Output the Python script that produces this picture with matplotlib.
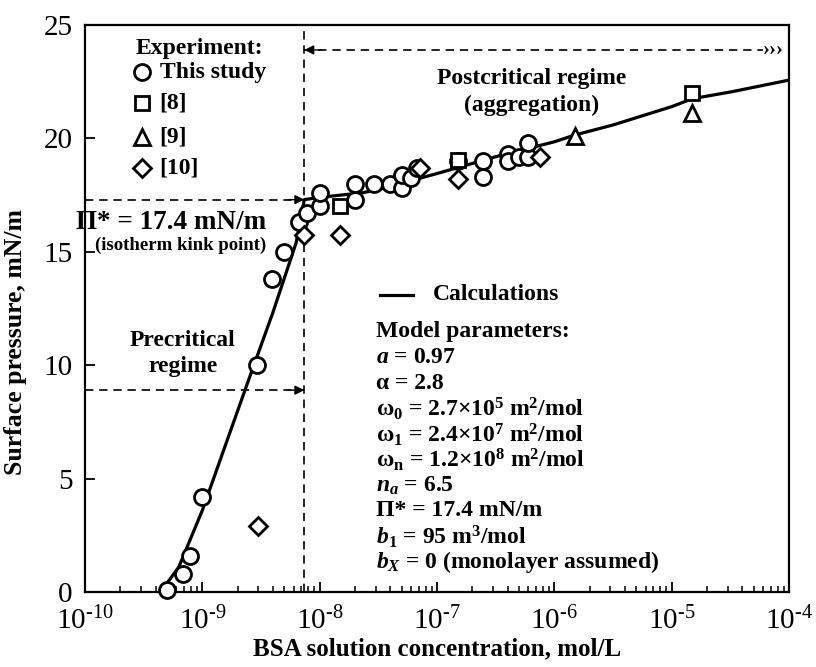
import numpy as np
import matplotlib
matplotlib.use("Agg")
import matplotlib.pyplot as plt

plt.rcParams['font.family'] = ['Liberation Serif', 'DejaVu Serif']
plt.rcParams['mathtext.fontset'] = 'custom'
plt.rcParams['mathtext.rm'] = 'Liberation Serif'
plt.rcParams['mathtext.it'] = 'Liberation Serif:italic:bold'
plt.rcParams['mathtext.bf'] = 'Liberation Serif:bold'

# ---- data ----
study_x = [5.0e-10, 6.8e-10, 7.9e-10, 1.0e-9, 2.95e-9, 3.9e-9, 5.0e-9, 6.7e-9, 7.8e-9,
           1.0e-8, 1.0e-8, 2.0e-8, 2.0e-8, 2.9e-8, 4.0e-8, 5.0e-8, 5.0e-8, 6.0e-8,
           6.8e-8, 1.5e-7, 2.45e-7, 2.45e-7, 4.0e-7, 4.0e-7, 5.0e-7, 6.0e-7, 6.0e-7]
study_y = [0.1, 0.8, 1.6, 4.2, 10.0, 13.8, 15.0, 16.3, 16.7,
           17.0, 17.6, 17.3, 18.0, 18.0, 18.0, 17.8, 18.4, 18.25,
           18.7, 19.0, 18.3, 19.0, 19.3, 19.0, 19.2, 19.2, 19.8]

ref8_x = [1.5e-8, 1.5e-7, 1.5e-5]
ref8_y = [17.0, 19.05, 22.0]

ref9_x = [1.5e-6, 1.5e-5]
ref9_y = [20.1, 21.1]

ref10_x = [3.0e-9, 7.4e-9, 1.5e-8, 7.2e-8, 1.5e-7, 7.6e-7]
ref10_y = [2.9, 15.75, 15.75, 18.7, 18.2, 19.2]

calc_x = [4.4e-10, 6.3e-10, 1.0e-9, 1.58e-9, 2.5e-9, 3.98e-9, 6.3e-9, 7.4e-9,
          1.0e-8, 2.3e-8, 3.2e-8, 1.0e-7, 3.2e-7, 1.0e-6, 1.5e-6, 3.2e-6,
          1.0e-5, 1.5e-5, 3.2e-5, 1.0e-4]
calc_y = [0.0, 1.1, 3.6, 6.5, 9.4, 12.3, 15.4, 17.3,
          17.4, 17.6, 17.75, 18.45, 19.2, 19.85, 20.15, 20.6,
          21.4, 21.75, 22.05, 22.57]

kink_x = 7.4e-9
kink_y = 17.3
pre_arrow_y = 8.9
top_arrow_y = 23.9
top_arrow_end = 6.0e-5

xtick_vals = [1e-10, 1e-9, 1e-8, 1e-7, 1e-6, 1e-5, 1e-4]
xtick_labels = ['$10^{\u201010}$', '$10^{\u20109}$', '$10^{\u20108}$',
                '$10^{\u20107}$', '$10^{\u20106}$', '$10^{\u20105}$',
                '$10^{\u20104}$']
ytick_vals = [0, 5, 10, 15, 20, 25]

params = [r"Model parameters:",
          r"$a$ = 0.97",
          r"α = 2.8",
          r"ω$_\mathbf{0}$ = 2.7×10$^\mathbf{5}$ m$^\mathbf{2}$/mol",
          r"ω$_\mathbf{1}$ = 2.4×10$^\mathbf{7}$ m$^\mathbf{2}$/mol",
          r"ω$_\mathbf{n}$ = 1.2×10$^\mathbf{8}$ m$^\mathbf{2}$/mol",
          r"$n_a$ = 6.5",
          r"Π* = 17.4 mN/m",
          r"$b$$_\mathbf{1}$ = 95 m$^\mathbf{3}$/mol",
          r"$b_X$ = 0 (monolayer assumed)"]

# ---- figure ----
fig = plt.figure(figsize=(8.16, 6.67), dpi=100)
ax = fig.add_axes([85/816, 1-592/667, 704/816, 567/667])
ax.set_xscale('log')
ax.set_xlim(1e-10, 1e-4)
ax.set_ylim(0, 25)

ax.plot(calc_x, calc_y, color='black', lw=2.3, zorder=3)

mk = dict(linestyle='none', markerfacecolor='white', markeredgecolor='black',
          markeredgewidth=2.0, zorder=4, clip_on=False)
ax.plot(study_x, study_y, marker='o', markersize=11.5, **mk)
ax.plot(ref8_x, ref8_y, marker='s', markersize=10, **mk)
ax.plot(ref9_x, ref9_y, marker='^', markersize=12, **mk)
ax.plot(ref10_x, ref10_y, marker='D', markersize=9.5, **mk)

# dashed guide lines
dash = dict(color='black', lw=1.2, dashes=(5, 3.5), zorder=2)
ax.plot([kink_x, kink_x], [0, 25], **dash)
ax.plot([1e-10, kink_x], [kink_y, kink_y], **dash)
ax.plot([1e-10, kink_x], [pre_arrow_y, pre_arrow_y], **dash)
ax.plot([kink_x, top_arrow_end], [top_arrow_y, top_arrow_y], **dash)
head = dict(arrowstyle='-|>', color='black', lw=1.0, mutation_scale=14,
            shrinkA=0, shrinkB=0)
ax.annotate('', xy=(kink_x, kink_y), xytext=(-12, 0), textcoords='offset points',
            arrowprops=head, zorder=5)
ax.annotate('', xy=(kink_x, pre_arrow_y), xytext=(-12, 0), textcoords='offset points',
            arrowprops=head, zorder=5)
ax.annotate('', xy=(kink_x, top_arrow_y), xytext=(12, 0), textcoords='offset points',
            arrowprops=head, zorder=5)
ax.text(top_arrow_end, top_arrow_y, '›››', fontsize=15, fontweight='bold',
        ha='left', va='center')

# axes styling
for s in ax.spines.values():
    s.set_linewidth(1.6)
ax.set_xticks(xtick_vals)
ax.set_xticklabels(xtick_labels)
ax.set_yticks(ytick_vals)
ax.tick_params(axis='both', which='major', direction='in', length=7, width=1.3,
               labelsize=21)
ax.tick_params(axis='x', which='major', pad=11)
ax.tick_params(axis='y', which='major', pad=9)
ax.tick_params(axis='x', which='minor', direction='in', length=4, width=1.1)
ax.tick_params(axis='y', which='minor', left=False)

tr = ax.transAxes
ax.text(0.5, -0.1, 'BSA solution concentration, mol/L', transform=tr,
        fontsize=18, fontweight='bold', ha='center', va='center')
ax.text(-0.0994, 0.44, 'Surface pressure, mN/m', transform=tr, rotation=90,
        fontsize=18.5, fontweight='bold', ha='center', va='center')

# legend (custom)
FS = 17
ax.text(0.163, 0.959, 'Experiment:', transform=tr, fontsize=FS, fontweight='bold',
        ha='center', va='center')
leg_y = [0.917, 0.862, 0.802, 0.748]
leg_m = ['o', 's', '^', 'D']
leg_s = [11.5, 10, 12, 9.5]
leg_t = ['This study', '[8]', '[9]', '[10]']
for yy, m, s, t in zip(leg_y, leg_m, leg_s, leg_t):
    ax.plot([0.081], [yy], marker=m, markersize=s, transform=tr, **mk)
    ax.text(0.106, yy, t, transform=tr, fontsize=FS, fontweight='bold',
            ha='left', va='center')

# calculations legend
ax.plot([0.419, 0.466], [0.524, 0.524], color='black', lw=2.3, transform=tr)
ax.text(0.494, 0.524, 'Calculations', transform=tr, fontsize=FS, fontweight='bold',
        ha='left', va='center')
for i, p in enumerate(params):
    ax.text(0.4134, 0.4586 - i*0.0451, p, transform=tr, fontsize=FS,
            fontweight='bold', ha='left', va='center')

# regime annotations
ax.text(0.257, 0.651, 'Π* = 17.4 mN/m', transform=tr, fontsize=19.5,
        fontweight='bold', ha='right', va='center', clip_on=False)
ax.text(0.257, 0.612, '(isotherm kink point)', transform=tr, fontsize=13.5,
        fontweight='bold', ha='right', va='center', clip_on=False)
ax.text(0.139, 0.444, 'Precritical', transform=tr, fontsize=FS,
        fontweight='bold', ha='center', va='center')
ax.text(0.139, 0.397, 'regime', transform=tr, fontsize=FS,
        fontweight='bold', ha='center', va='center')
ax.text(0.635, 0.9065, 'Postcritical regime', transform=tr, fontsize=FS,
        fontweight='bold', ha='center', va='center')
ax.text(0.635, 0.859, '(aggregation)', transform=tr, fontsize=FS,
        fontweight='bold', ha='center', va='center')

fig.savefig('out.png', dpi=100)
